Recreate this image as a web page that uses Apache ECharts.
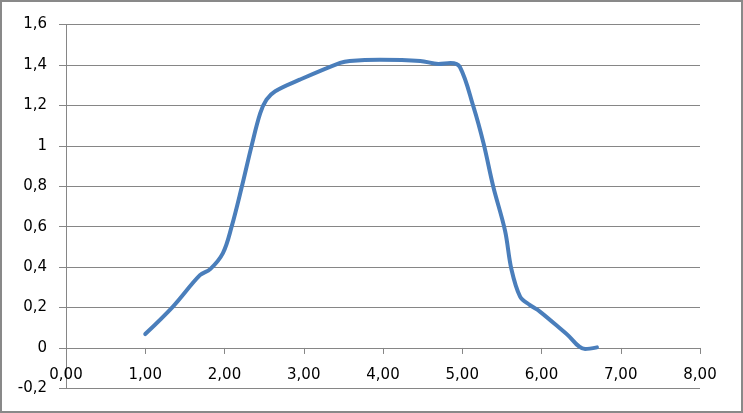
<!DOCTYPE html>
<html>
<head>
<meta charset="utf-8">
<script src="https://cdn.jsdelivr.net/npm/echarts@6/dist/echarts.min.js"></script>
<style>
html,body{margin:0;padding:0;background:#fff;}
#chart{width:743px;height:413px;}
</style>
</head>
<body>
<div id="chart"></div>
<script>
const xValues = [1.0, 1.35, 1.69, 1.82, 1.98, 2.09, 2.22, 2.34, 2.45, 2.53, 2.64, 2.95, 3.46, 3.58, 3.96, 4.47, 4.70, 4.85, 4.97, 5.14, 5.27, 5.39, 5.54, 5.62, 5.73, 5.85, 5.98, 6.32, 6.55, 6.70];
const yValues = [0.069, 0.205, 0.36, 0.39, 0.469, 0.60, 0.80, 0.997, 1.16, 1.228, 1.27, 1.327, 1.41, 1.42, 1.426, 1.42, 1.405, 1.41, 1.39, 1.195, 1.01, 0.80, 0.58, 0.39, 0.254, 0.213, 0.18, 0.068, -0.005, 0.003];

const chart = echarts.init(document.getElementById('chart'));
const gridColor = '#868686';
const font = 'DejaVu Sans';
const gridTop = 24.5, gridBottom = 24.6;
// x axis crosses the y axis at value 0 (one 0.2 step above the bottom of a 9-step axis)
const zeroOffset = -(413 - gridTop - gridBottom) / 9;
chart.setOption({
  animation: false,
  backgroundColor: '#fff',
  graphic: [{
    type: 'rect',
    shape: {x: 1, y: 1, width: 741, height: 411},
    style: {fill: null, stroke: '#898989', lineWidth: 2},
    silent: true
  }],
  grid: {left: 66, right: 43, top: gridTop, bottom: gridBottom, outerBoundsMode: 'none', containLabel: false},
  xAxis: {
    type: 'value', min: 0, max: 8, interval: 1,
    offset: zeroOffset,
    axisLine: {show: true, onZero: false, lineStyle: {color: gridColor, width: 1}},
    axisTick: {show: true, length: 6, lineStyle: {color: gridColor}},
    splitLine: {show: false},
    axisLabel: {
      margin: 20, color: '#000', fontFamily: font, fontSize: 15,
      formatter: v => v.toFixed(2).replace('.', ',')
    }
  },
  yAxis: {
    type: 'value', min: -0.2, max: 1.6, interval: 0.2,
    axisLine: {show: true, onZero: false, lineStyle: {color: gridColor, width: 1}},
    axisTick: {show: true, length: 7, lineStyle: {color: gridColor}},
    splitLine: {show: true, lineStyle: {color: gridColor, width: 1}},
    axisLabel: {
      margin: 19, color: '#000', fontFamily: font, fontSize: 15,
      formatter: v => String(parseFloat(v.toFixed(1))).replace('.', ',')
    }
  },
  series: [{
    type: 'line',
    data: xValues.map((x, i) => [x, yValues[i]]),
    smooth: 0.35,
    showSymbol: false,
    lineStyle: {color: '#4A7EBB', width: 4, cap: 'round', join: 'round'},
    itemStyle: {color: '#4A7EBB'}
  }]
});
</script>
</body>
</html>
